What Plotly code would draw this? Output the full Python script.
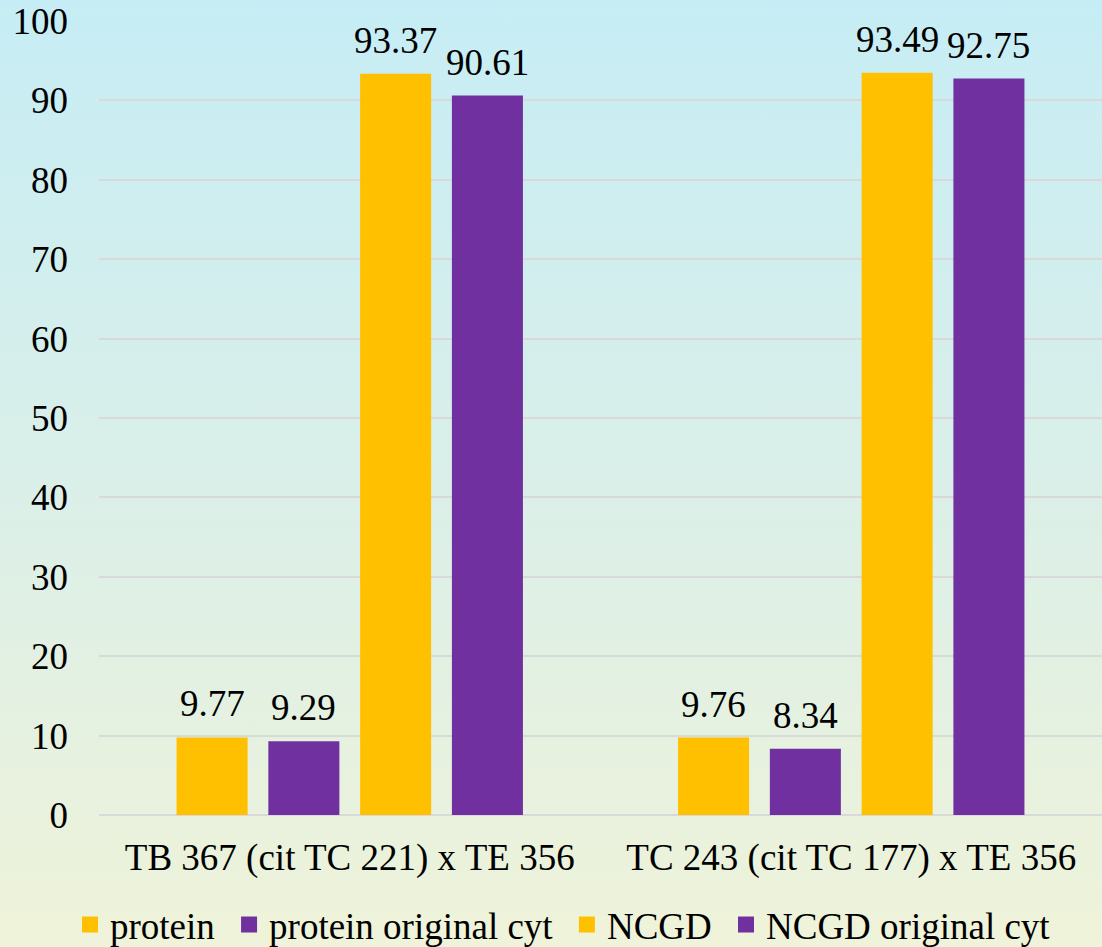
import base64
import plotly.graph_objects as go

# Data
categories = ["TB 367 (cit TC 221) x TE 356", "TC 243 (cit TC 177) x TE 356"]
series_names = ["protein", "protein original cyt", "NCGD", "NCGD original cyt"]
protein = [9.77, 9.76]
protein_original_cyt = [9.29, 8.34]
ncgd = [93.37, 93.49]
ncgd_original_cyt = [90.61, 92.75]
y_ticks = list(range(0, 101, 10))

series_values = [protein, protein_original_cyt, ncgd, ncgd_original_cyt]
colors = ["#FFC000", "#7030A0", "#FFC000", "#7030A0"]

W, H = 1102, 947
M_L, M_R, M_T, M_B = 99, 0, 21, 132
FONT = "Liberation Serif, Times New Roman, serif"
FS = 37
BARGAP = 0.268
BARGROUPGAP = 0.226

fig = go.Figure()

n = len(series_names)
for k, (name, vals, col) in enumerate(zip(series_names, series_values, colors)):
    fig.add_trace(go.Bar(
        x=categories, y=vals, name=name, marker=dict(color=col, line=dict(width=0)),
        showlegend=False, hoverinfo="x+y+name",
    ))
    # legend entry with a larger square swatch; a trailing no-break space
    # widens the gap to the following entry
    label = name + ("\u00a0" if k < n - 1 else "")
    fig.add_trace(go.Scatter(
        x=[None], y=[None], mode="markers", name=label,
        marker=dict(symbol="square", size=19, color=col),
    ))

# value labels above each bar, placed at the centre of its slot in the group
slot = (1 - BARGAP) / n
for k, vals in enumerate(series_values):
    for ci, v in enumerate(vals):
        fig.add_annotation(
            x=ci + (k - (n - 1) / 2) * slot, y=v, xref="x", yref="y",
            text=f"{v:.2f}", showarrow=False, yanchor="bottom", yshift=11,
            font=dict(family=FONT, size=FS, color="#000000"),
        )

# vertical background gradient
svg = (
    f'<svg xmlns="http://www.w3.org/2000/svg" width="{W}" height="{H}" preserveAspectRatio="none">'
    '<defs><linearGradient id="g" x1="0" y1="0" x2="0" y2="1">'
    '<stop offset="0" stop-color="#C6EDF5"/>'
    '<stop offset="0.5" stop-color="#DAEFE9"/>'
    '<stop offset="1" stop-color="#EFF3D9"/>'
    '</linearGradient></defs>'
    f'<rect width="{W}" height="{H}" fill="url(#g)"/></svg>'
)
src = "data:image/svg+xml;base64," + base64.b64encode(svg.encode()).decode()
pw, ph = W - M_L - M_R, H - M_T - M_B
fig.add_layout_image(
    source=src, xref="paper", yref="paper",
    x=-M_L / pw, y=1 + M_T / ph, sizex=W / pw, sizey=H / ph,
    xanchor="left", yanchor="top", sizing="stretch", layer="below",
)

fig.update_layout(
    width=W, height=H,
    margin=dict(l=M_L, r=M_R, t=M_T, b=M_B, pad=0, autoexpand=False),
    paper_bgcolor="rgba(0,0,0,0)", plot_bgcolor="rgba(0,0,0,0)",
    barmode="group", bargap=BARGAP, bargroupgap=BARGROUPGAP,
    font=dict(family=FONT, size=FS, color="#000000"),
    showlegend=True,
    legend=dict(
        orientation="h", x=(563 - M_L) / pw, xanchor="center", y=-0.1385, yanchor="middle",
        font=dict(family=FONT, size=FS), bgcolor="rgba(0,0,0,0)",
        itemclick=False, tracegroupgap=0,
    ),
    xaxis=dict(
        type="category", showgrid=False, showline=False, ticks="",
        tickfont=dict(family=FONT, size=FS), ticklabelstandoff=17, automargin=False,
    ),
    yaxis=dict(
        range=[0, 100], tickvals=y_ticks, showgrid=True, gridcolor="#D9D9D9", gridwidth=2,
        zeroline=True, zerolinecolor="#D9D9D9", zerolinewidth=2, showline=False, ticks="",
        tickfont=dict(family=FONT, size=FS), ticklabelstandoff=30, automargin=False,
    ),
)

fig.write_html("out.html")
